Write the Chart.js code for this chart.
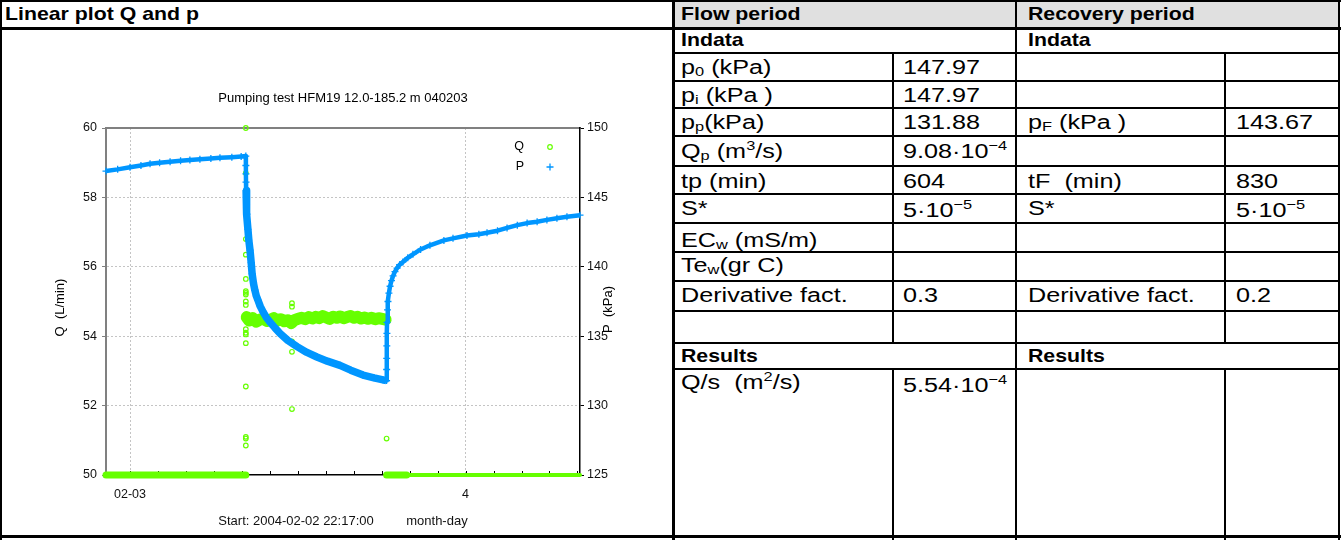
<!DOCTYPE html>
<html>
<head>
<meta charset="utf-8">
<script src="https://cdn.jsdelivr.net/npm/chart.js@4.4.1/dist/chart.umd.min.js"></script>
<style>
  html, body { margin: 0; padding: 0; background: #fff; }
  body { width: 1341px; height: 540px; position: relative; overflow: hidden;
         font-family: 'Liberation Sans', Arial, sans-serif; color: #000; }
  .h, .v { position: absolute; background: #000; }
  .t { position: absolute; font-size: 20px; line-height: 24px; white-space: nowrap;
       transform: scaleX(1.26); transform-origin: 0 50%; }
  .b { font-weight: bold; font-size: 19px; transform: scaleX(1.12); }
  .sb { font-size: 13px; vertical-align: -2px; line-height: 0; }
  .sp { font-size: 13px; vertical-align: 8px; line-height: 0; }
  #hdr { position: absolute; left: 674px; top: 1px; width: 665px; height: 26px; background: #e0e0e0; }
  #plot { position: absolute; left: 3px; top: 30px; width: 669px; height: 504px; }
</style>
</head>
<body>
<div id="hdr"></div>

<!-- table rules -->
<div class="h" style="left:0;top:0;width:1341px;height:2px"></div>
<div class="h" style="left:0;top:27px;width:1341px;height:3px"></div>
<div class="h" style="left:674px;top:52px;width:665px;height:2px"></div>
<div class="h" style="left:674px;top:80px;width:665px;height:2px"></div>
<div class="h" style="left:674px;top:107px;width:665px;height:2px"></div>
<div class="h" style="left:674px;top:135px;width:665px;height:2px"></div>
<div class="h" style="left:674px;top:165px;width:665px;height:2px"></div>
<div class="h" style="left:674px;top:193px;width:665px;height:2px"></div>
<div class="h" style="left:674px;top:222px;width:665px;height:2px"></div>
<div class="h" style="left:674px;top:251px;width:665px;height:2px"></div>
<div class="h" style="left:674px;top:280px;width:665px;height:2px"></div>
<div class="h" style="left:674px;top:310px;width:665px;height:2px"></div>
<div class="h" style="left:674px;top:342px;width:665px;height:2px"></div>
<div class="h" style="left:674px;top:368px;width:665px;height:2px"></div>
<div class="h" style="left:0;top:535px;width:1341px;height:3px"></div>

<div class="v" style="left:0;top:0;width:2px;height:540px"></div>
<div class="v" style="left:672px;top:0;width:3px;height:540px"></div>
<div class="v" style="left:892px;top:52px;width:2px;height:291px"></div>
<div class="v" style="left:892px;top:368px;width:2px;height:172px"></div>
<div class="v" style="left:1015px;top:0;width:2px;height:540px"></div>
<div class="v" style="left:1224px;top:52px;width:2px;height:291px"></div>
<div class="v" style="left:1224px;top:368px;width:2px;height:172px"></div>
<div class="v" style="left:1338px;top:0;width:2px;height:540px"></div>

<!-- table text -->
<div class="t b" style="left:5px;top:2px">Linear plot Q and p</div>
<div class="t b" style="left:681px;top:2px">Flow period</div>
<div class="t b" style="left:1028px;top:2px">Recovery period</div>
<div class="t b" style="left:681px;top:28px">Indata</div>
<div class="t b" style="left:1028px;top:28px">Indata</div>

<div class="t" style="left:681px;top:55px">p<span class="sb">0</span> (kPa)</div>
<div class="t" style="left:903px;top:55px">147.97</div>
<div class="t" style="left:681px;top:83px">p<span class="sb">i</span> (kPa )</div>
<div class="t" style="left:903px;top:83px">147.97</div>
<div class="t" style="left:681px;top:110px">p<span class="sb">p</span>(kPa)</div>
<div class="t" style="left:903px;top:110px">131.88</div>
<div class="t" style="left:1028px;top:110px">p<span class="sb">F</span> (kPa )</div>
<div class="t" style="left:1236px;top:110px">143.67</div>
<div class="t" style="left:681px;top:139px">Q<span class="sb">p</span> (m<span class="sp">3</span>/s)</div>
<div class="t" style="left:903px;top:139px">9.08·10<span class="sp">−4</span></div>
<div class="t" style="left:681px;top:169px">tp (min)</div>
<div class="t" style="left:903px;top:169px">604</div>
<div class="t" style="left:1028px;top:169px">tF&nbsp; (min)</div>
<div class="t" style="left:1236px;top:169px">830</div>
<div class="t" style="left:681px;top:196px">S*</div>
<div class="t" style="left:903px;top:198px">5·10<span class="sp">−5</span></div>
<div class="t" style="left:1028px;top:196px">S*</div>
<div class="t" style="left:1236px;top:198px">5·10<span class="sp">−5</span></div>
<div class="t" style="left:681px;top:228px">EC<span class="sb">w</span> (mS/m)</div>
<div class="t" style="left:681px;top:253px">Te<span class="sb">w</span>(gr C)</div>
<div class="t" style="left:681px;top:283px">Derivative fact.</div>
<div class="t" style="left:903px;top:283px">0.3</div>
<div class="t" style="left:1028px;top:283px">Derivative fact.</div>
<div class="t" style="left:1236px;top:283px">0.2</div>
<div class="t b" style="left:681px;top:344px">Results</div>
<div class="t b" style="left:1028px;top:344px">Results</div>
<div class="t" style="left:681px;top:370px">Q/s&nbsp; (m<span class="sp">2</span>/s)</div>
<div class="t" style="left:903px;top:373px">5.54·10<span class="sp">−4</span></div>

<div id="plot"><canvas id="c" width="669" height="504" style="width:669px;height:504px"></canvas></div>

<script>
// Time is in minutes after the logger start, 2004-02-02 22:17:00.
const xTickValues = [103, 1543];
const xTickLabels = ['02-03', '4'];

// Pressure P (kPa), right axis
const pTime = [0, 50, 103, 150, 189, 230, 275, 320, 360, 403, 450, 489, 540, 580, 600,
  600.2, 600.5, 600.8, 601.2, 602, 603, 605, 609, 613, 618, 623, 627, 633, 639, 645, 652, 662,
  674, 688, 704, 725, 747, 780, 820, 860, 905, 950, 1004, 1050, 1103, 1150, 1189, 1203,
  1204, 1204.3, 1204.6, 1205, 1205.5, 1206, 1208, 1210, 1214, 1219, 1225, 1232, 1240, 1249,
  1260, 1274, 1295, 1317, 1350, 1390, 1450, 1489, 1549, 1600, 1635, 1680, 1721, 1765, 1807,
  1850, 1892, 1935, 1978, 2034];
const pValue = [146.90, 147.02, 147.17, 147.30, 147.42, 147.50, 147.57, 147.64, 147.70, 147.75,
  147.80, 147.85, 147.90, 147.95, 147.98,
  147.3, 146.7, 146.1, 145.5, 145.0, 144.5, 143.8, 142.7, 141.9, 141.2, 140.3, 139.5, 138.8,
  138.3, 137.9, 137.6, 137.15, 136.75, 136.35, 136.0, 135.6, 135.2, 134.7, 134.25, 133.85,
  133.5, 133.2, 132.9, 132.55, 132.2, 132.0, 131.85, 131.8,
  131.8, 132.6, 133.4, 134.3, 135.2, 136.0, 136.9, 137.5, 138.1, 138.6, 139.0, 139.35, 139.65,
  139.9, 140.15, 140.35, 140.65, 140.9, 141.25, 141.55, 141.9, 142.05, 142.25, 142.35, 142.45,
  142.6, 142.8, 143.0, 143.15, 143.25, 143.38, 143.5, 143.6, 143.72];

// Flow rate Q (L/min), left axis: idle periods sit on the axis floor
const qBeforeTime = [0, 600];
const qBeforeValue = [50, 50];
const qAfterTime = [1204, 1290, 2034];
const qAfterValue = [50, 50, 50];

// Q during the flow period
const qFlowTime = [604, 615, 630, 645, 660, 675, 690, 705, 720, 735, 750, 765, 780, 795, 810,
  825, 840, 855, 870, 885, 900, 915, 930, 945, 960, 975, 990, 1005, 1020, 1035, 1050, 1065,
  1080, 1095, 1110, 1125, 1140, 1155, 1170, 1185, 1200];
const qFlowValue = [54.55, 54.45, 54.52, 54.42, 54.48, 54.50, 54.44, 54.47, 54.52, 54.45,
  54.49, 54.43, 54.46, 54.38, 54.47, 54.50, 54.53, 54.49, 54.55, 54.51, 54.56, 54.52, 54.58,
  54.54, 54.50, 54.56, 54.53, 54.57, 54.52, 54.55, 54.58, 54.53, 54.56, 54.51, 54.54, 54.50,
  54.53, 54.49, 54.52, 54.50, 54.48];

// Single Q readings away from the steady flow
const qSpikeTime = [600, 600, 600, 600, 600, 600, 600, 600, 600, 600, 600, 600, 600, 600, 600,
  600, 600, 600, 600, 798, 798, 798, 798, 798, 1204];
const qSpikeValue = [60.0, 58.7, 57.7, 56.8, 56.35, 55.65, 55.3, 55.25, 55.2, 55.0, 54.9, 54.2,
  54.1, 54.05, 53.8, 52.55, 51.1, 51.05, 50.85, 54.95, 54.85, 53.85, 53.55, 51.9, 51.05];

const GREEN = '#66ff00';
const BLUE = '#0096ff';
const GRID = '#c4c4c4';
const FONT = "'Liberation Sans', Arial, sans-serif";

const pts = (xs, ys) => xs.map((x, i) => ({ x: x, y: ys[i] }));

// small inward tick marks every two hours along the time axis
const minorTicks = {
  id: 'minorTicks',
  beforeDatasetsDraw(chart) {
    const sx = chart.scales.x, a = chart.chartArea, c = chart.ctx;
    c.save();
    c.strokeStyle = '#000';
    c.lineWidth = 1;
    c.beginPath();
    for (let t = xTickValues[0]; t <= sx.max; t += 120) {
      const px = Math.round(sx.getPixelForValue(t)) + 0.5;
      c.moveTo(px, a.bottom);
      c.lineTo(px, a.bottom - 4);
    }
    c.stroke();
    c.restore();
  }
};

// key in the upper right corner of the plot, text left of the symbol
const seriesKey = {
  id: 'seriesKey',
  afterDatasetsDraw(chart) {
    const a = chart.chartArea, c = chart.ctx;
    const items = chart.data.datasets.filter(d => d.label);
    items.forEach((d, i) => {
      const y = a.top + 19 + i * 20;
      const mx = a.right - 30;
      c.save();
      c.font = '12.5px ' + FONT;
      c.fillStyle = '#000';
      c.textAlign = 'right';
      c.textBaseline = 'middle';
      c.fillText(d.label, a.right - 56, y);
      c.strokeStyle = d.pointBorderColor;
      c.lineWidth = d.pointBorderWidth;
      c.beginPath();
      if (d.pointStyle === 'circle') {
        c.arc(mx, y, d.pointRadius, 0, Math.PI * 2);
      } else {
        c.moveTo(mx - d.pointRadius, y); c.lineTo(mx + d.pointRadius, y);
        c.moveTo(mx, y - d.pointRadius); c.lineTo(mx, y + d.pointRadius);
      }
      c.stroke();
      c.restore();
    });
  }
};

// rotated titles on both value axes
const axisTitles = {
  id: 'axisTitles',
  afterDraw(chart) {
    const a = chart.chartArea, c = chart.ctx;
    const mid = (a.top + a.bottom) / 2;
    const draw = (text, x, y) => {
      c.save();
      c.translate(x, y);
      c.rotate(-Math.PI / 2);
      c.font = '13px ' + FONT;
      c.fillStyle = '#000';
      c.textAlign = 'center';
      c.textBaseline = 'middle';
      c.fillText(text, 0, 0);
      c.restore();
    };
    draw('Q  (L/min)', a.left - 46, mid + 6);
    draw('P  (kPa)', a.right + 28, mid + 8);
  }
};

new Chart(document.getElementById('c'), {
  type: 'scatter',
  data: {
    datasets: [
      {
        label: 'Q',
        data: pts(qSpikeTime, qSpikeValue),
        yAxisID: 'yQ',
        pointStyle: 'circle',
        pointRadius: 2.3,
        pointBorderWidth: 1.2,
        pointBorderColor: GREEN,
        pointBackgroundColor: 'rgba(0,0,0,0)',
        showLine: false,
        clip: false,
        order: 1
      },
      {
        label: 'P',
        data: pts(pTime, pValue),
        yAxisID: 'yP',
        showLine: true,
        borderColor: BLUE,
        borderWidth: 4.5,
        borderJoinStyle: 'round',
        segment: {
          // the drawdown record is denser and noisier, so its trace reads wider
          borderWidth: ctx => (ctx.p0.parsed.x >= 601 && ctx.p0.parsed.x < 1204 ? 7.5 : 4.5)
        },
        pointStyle: 'cross',
        pointRadius: 3.5,
        pointBorderWidth: 1.3,
        pointBorderColor: BLUE,
        tension: 0,
        clip: false,
        order: 0
      },
      {
        data: pts(qFlowTime, qFlowValue),
        yAxisID: 'yQ',
        showLine: true,
        borderColor: GREEN,
        borderWidth: 12,
        borderCapStyle: 'round',
        borderJoinStyle: 'round',
        pointRadius: 0,
        clip: false,
        order: 2
      },
      {
        data: pts(qBeforeTime, qBeforeValue),
        yAxisID: 'yQ',
        showLine: true,
        borderColor: GREEN,
        borderWidth: 7,
        borderCapStyle: 'round',
        pointRadius: 0,
        clip: false,
        order: 2
      },
      {
        data: pts(qAfterTime, qAfterValue),
        yAxisID: 'yQ',
        showLine: true,
        borderColor: GREEN,
        borderWidth: 7,
        borderCapStyle: 'round',
        segment: { borderWidth: ctx => (ctx.p0.parsed.x >= qAfterTime[1] ? 4 : 7) },
        pointRadius: 0,
        clip: false,
        order: 2
      }
    ]
  },
  options: {
    responsive: false,
    animation: false,
    devicePixelRatio: 1,
    layout: { padding: 0 },
    font: { family: FONT },
    plugins: {
      legend: { display: false },
      tooltip: { enabled: false },
      title: {
        display: true,
        text: 'Pumping test HFM19 12.0-185.2 m 040203',
        fullSize: false,
        color: '#000',
        font: { family: FONT, size: 13, weight: 'normal' },
        padding: { top: 61, bottom: 21.4 }
      }
    },
    scales: {
      x: {
        type: 'linear',
        position: 'bottom',
        min: 0,
        max: 2034,
        afterBuildTicks: s => { s.ticks = xTickValues.map(v => ({ value: v })); },
        afterFit: s => { s.height = 59; },
        ticks: {
          autoSkip: false,
          maxRotation: 0,
          padding: 12,
          color: '#111',
          font: { family: FONT, size: 12.5 },
          callback: v => { const i = xTickValues.indexOf(v); return i < 0 ? '' : xTickLabels[i]; }
        },
        grid: { color: GRID, lineWidth: 1, drawTicks: false },
        border: { color: '#000', width: 1.5, dash: [2, 2] },
        title: {
          display: true,
          text: 'Start: 2004-02-02 22:17:00         month-day',
          color: '#111',
          font: { family: FONT, size: 13 },
          padding: { top: 0, bottom: 5.2 }
        }
      },
      xTop: {
        type: 'linear',
        position: 'top',
        min: 0,
        max: 2034,
        afterFit: s => { s.height = 0; },
        ticks: { display: false },
        grid: { display: false, drawTicks: false },
        border: { display: true, color: '#808080', width: 2 }
      },
      yQ: {
        type: 'linear',
        position: 'left',
        min: 50,
        max: 60,
        afterFit: s => { s.width = 103; },
        ticks: { stepSize: 2, padding: 5, color: '#111', font: { family: FONT, size: 12.5 } },
        grid: {
          color: c => (c.tick && (c.tick.value === 50 || c.tick.value === 60)) ? 'rgba(0,0,0,0)' : GRID,
          lineWidth: 1,
          tickLength: 4,
          tickColor: '#808080',
          tickBorderDash: []
        },
        border: { color: '#808080', width: 2, dash: [2, 2] }
      },
      yP: {
        type: 'linear',
        position: 'right',
        min: 125,
        max: 150,
        afterFit: s => { s.width = 92; },
        ticks: { stepSize: 5, padding: 3, color: '#111', font: { family: FONT, size: 12.5 } },
        grid: { drawOnChartArea: false, tickLength: 4, tickColor: '#000', tickBorderDash: [] },
        border: { color: '#000', width: 1.5 }
      }
    }
  },
  plugins: [minorTicks, seriesKey, axisTitles]
});
</script>
</body>
</html>
